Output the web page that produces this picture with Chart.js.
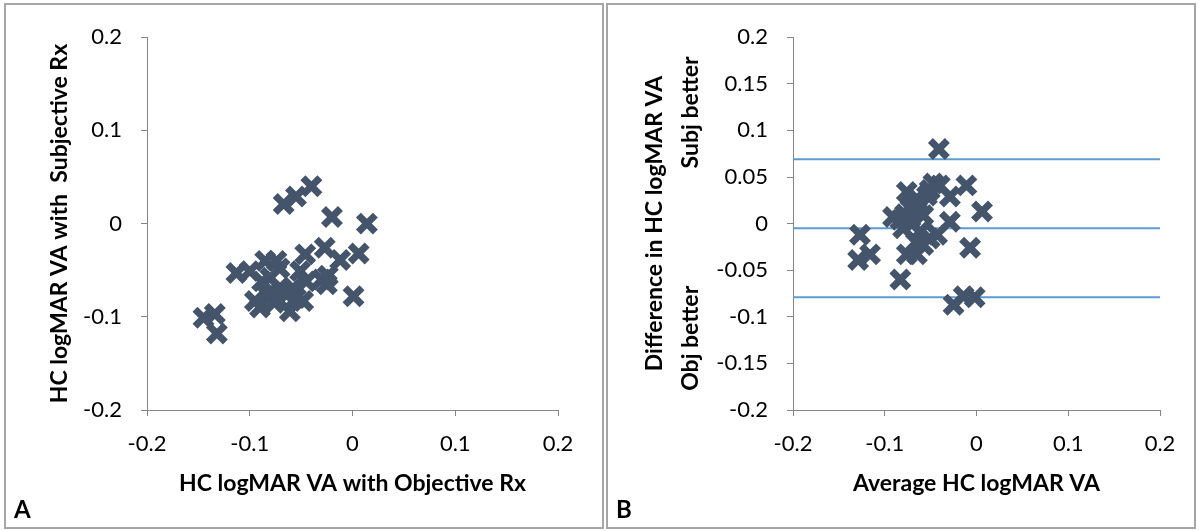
<!DOCTYPE html>
<html>
<head>
<meta charset="utf-8">
<script src="https://cdn.jsdelivr.net/npm/chart.js@4.4.1/dist/chart.umd.min.js"></script>
<style>
  body { margin: 0; background: #fff; width: 1199px; height: 531px; position: relative; overflow: hidden; }
  .panel { position: absolute; top: 3px; height: 522px; border: 2px solid #a6a6a6; background: #fff; }
  #panelA { left: 4px; width: 596px; }
  #panelB { left: 606px; width: 586px; }
  .panel canvas { position: absolute; left: 0; top: 0; }
  .tag { position: absolute; font: bold 24px Lato, sans-serif; color: #000; }
</style>
</head>
<body>
<div class="panel" id="panelA"><canvas id="chartA" width="596" height="522"></canvas><span class="tag" style="left:8px;top:489px">A</span></div>
<div class="panel" id="panelB"><canvas id="chartB" width="586" height="522"></canvas><span class="tag" style="left:8px;top:489px">B</span></div>
<script>
// A: VA with objective vs subjective refraction
const objectiveVA = [-0.040, -0.055, -0.067, -0.020, 0.014, -0.027, -0.046, -0.012, 0.006, -0.113,
  -0.024, 0.001, -0.145, -0.134, -0.132, -0.030, -0.025,
  -0.085, -0.074, -0.100, -0.095, -0.090, -0.061, -0.048, -0.045, -0.051, -0.071, -0.083,
  -0.064, -0.058, -0.080, -0.071, -0.088, -0.076, -0.055, -0.068];
const subjectiveVA = [0.040, 0.029, 0.021, 0.007, 0.000, -0.026, -0.033, -0.039, -0.032, -0.053,
  -0.056, -0.078, -0.101, -0.097, -0.118, -0.060, -0.065,
  -0.040, -0.040, -0.051, -0.083, -0.090, -0.094, -0.083, -0.062, -0.051, -0.069, -0.076,
  -0.076, -0.069, -0.058, -0.048, -0.062, -0.085, -0.080, -0.072];

// B: Bland-Altman, average vs difference
const averageVA = [-0.041, -0.011, -0.029, 0.006, -0.047, -0.040, -0.051, -0.076, -0.065, -0.072,
  -0.069, -0.091, -0.083, -0.058, -0.072, -0.029, -0.043, -0.062, -0.051, -0.080,
  -0.127, -0.116, -0.129, -0.007, -0.076, -0.065, -0.058, -0.083, -0.025, -0.014,
  -0.002, -0.070, -0.060, -0.066, -0.054, -0.078];
const differenceVA = [0.080, 0.041, 0.029, 0.013, 0.043, 0.041, 0.036, 0.034, 0.027, 0.016,
  0.022, 0.007, 0.004, 0.009, 0.006, 0.002, -0.012, -0.009, -0.016, -0.005,
  -0.012, -0.033, -0.039, -0.026, -0.033, -0.033, -0.023, -0.060, -0.087, -0.078,
  -0.079, 0.000, 0.020, -0.020, 0.030, 0.010];
const meanDiff = -0.005;
const upperLimit = 0.069;
const lowerLimit = -0.079;

const ticksA = [-0.2, -0.1, 0, 0.1, 0.2];
const ticksBx = [-0.2, -0.1, 0, 0.1, 0.2];
const ticksBy = [-0.2, -0.15, -0.1, -0.05, 0, 0.05, 0.1, 0.15, 0.2];

const markColor = '#44546a';
const axisGray = '#868686';

function toPoints(xs, ys) {
  return xs.map((x, i) => ({ x: x, y: ys[i] }));
}

function fmt(v) {
  return String(+v.toFixed(2));
}

function axis(tickList, titleText, titlePad, tickPad, size, lineH) {
  return {
    type: 'linear',
    min: tickList[0],
    max: tickList[tickList.length - 1],
    afterBuildTicks: s => { s.ticks = tickList.map(v => ({ value: v })); },
    afterFit: s => {
      if (s.isHorizontal()) s.height = size; else s.width = size;
    },
    border: { display: true, color: axisGray, width: 1 },
    grid: { display: true, drawOnChartArea: false, drawTicks: true, tickLength: 6, color: axisGray },
    ticks: {
      padding: tickPad,
      color: '#000',
      font: { family: 'Lato', size: 22 },
      maxRotation: 0,
      autoSkip: false,
      callback: v => fmt(v)
    },
    title: {
      display: true,
      text: titleText,
      color: '#000',
      font: { family: 'Lato', size: 23, weight: 'bold', lineHeight: lineH || 1.2 },
      padding: titlePad
    }
  };
}

const markerSet = pts => ({
  type: 'scatter',
  data: pts,
  order: 1,
  pointStyle: 'crossRot',
  radius: 12,
  hoverRadius: 12,
  borderWidth: 7,
  borderColor: markColor,
  backgroundColor: markColor
});

const limitLine = v => ({
  type: 'line',
  data: [{ x: -0.2, y: v }, { x: 0.2, y: v }],
  order: 2,
  borderColor: '#5b9bd5',
  borderWidth: 2,
  pointRadius: 0,
  fill: false
});

const common = {
  responsive: false,
  animation: false,
  events: [],
  plugins: { legend: { display: false }, tooltip: { enabled: false } }
};

new Chart(document.getElementById('chartA'), {
  type: 'scatter',
  data: { datasets: [markerSet(toPoints(objectiveVA, subjectiveVA))] },
  options: Object.assign({}, common, {
    layout: { padding: { left: 0, right: 44, top: 29, bottom: 0 } },
    scales: {
      x: axis(ticksA, 'HC logMAR VA with Objective Rx', { top: 0, bottom: 30 }, 15, 117),
      y: axis(ticksA, 'HC logMAR VA with  Subjective Rx', { top: 40, bottom: 0 }, 19, 141)
    }
  })
});

new Chart(document.getElementById('chartB'), {
  type: 'scatter',
  data: {
    datasets: [
      markerSet(toPoints(averageVA, differenceVA)),
      limitLine(upperLimit),
      limitLine(meanDiff),
      limitLine(lowerLimit)
    ]
  },
  options: Object.assign({}, common, {
    layout: { padding: { left: 0, right: 34, top: 29, bottom: 0 } },
    scales: {
      x: axis(ticksBx, 'Average HC logMAR VA', { top: 0, bottom: 30 }, 15, 117),
      y: axis(ticksBy, ['Difference in HC logMAR VA', 'Obj better                     Subj better'], { top: 29, bottom: 0 }, 19, 185, 1.55)
    }
  })
});
</script>
</body>
</html>
